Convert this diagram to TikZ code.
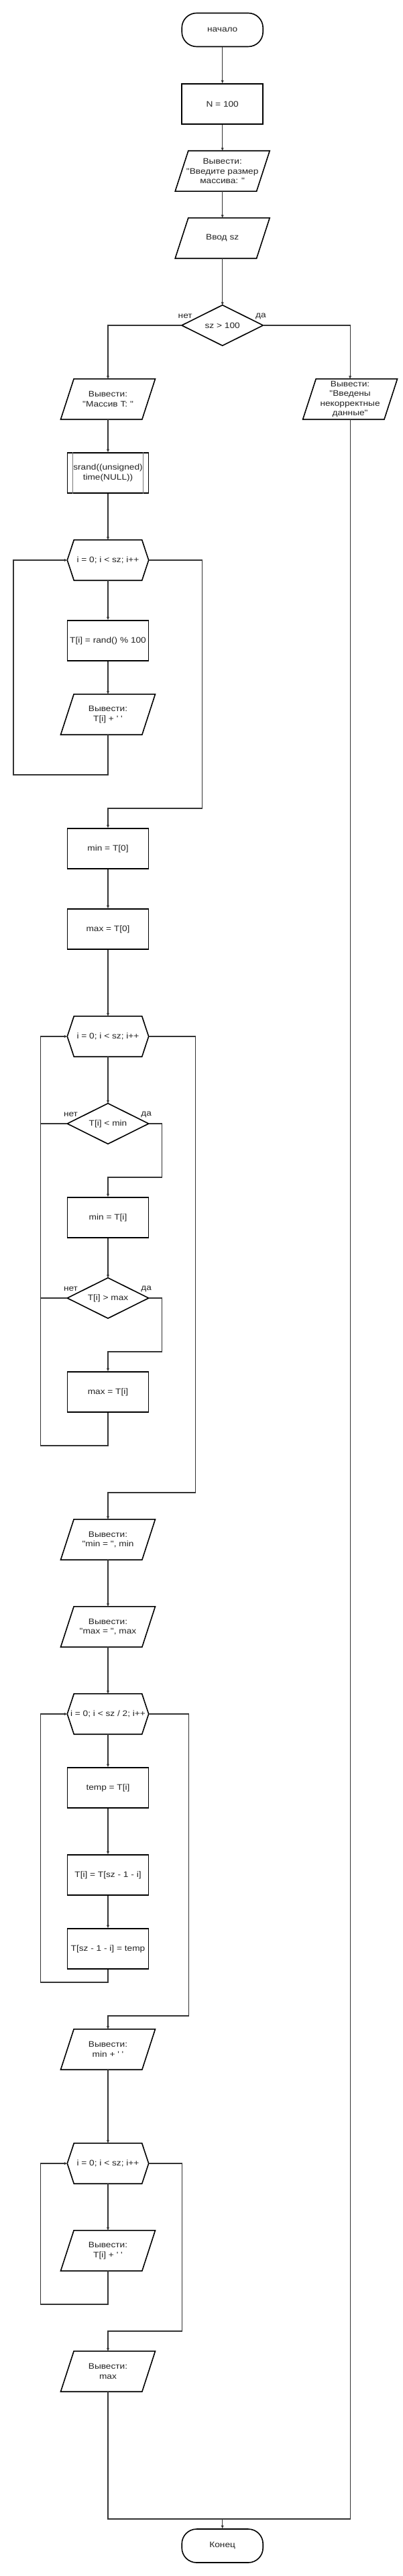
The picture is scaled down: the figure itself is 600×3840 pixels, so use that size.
\documentclass[tikz,border=0pt]{standalone}
\usepackage{fontspec}
\setmainfont{Liberation Sans}[Ligatures=TeXOff,FakeStretch=1.14]
\usetikzlibrary{arrows.meta,calc}
\definecolor{txtc}{HTML}{222222}
\definecolor{linec}{HTML}{333333}
\definecolor{innerc}{HTML}{777777}
\begin{document}
\begin{tikzpicture}[x=1pt,y=-1pt,
  every node/.style={font=\fontsize{12}{14.4}\selectfont, text=txtc, inner sep=0pt, align=center},
  box/.style={draw=black, line width=1.6pt, minimum width=121pt, minimum height=60pt},
  term/.style={draw=black, line width=1.6pt, minimum width=121pt, minimum height=50pt, rounded corners=22pt},
  ghost/.style={minimum width=121pt, minimum height=60pt},
  outline/.style={draw=black, line width=1.6pt, line join=miter},
  conn/.style={draw=linec, line width=1.1pt},
  arr/.style={conn, -{Triangle[length=4.5pt,width=3.6pt]}}
]
\fill[white] (0,0) rectangle (600,3840);
\useasboundingbox (0,0) rectangle (600,3840);

% ---- nodes ----
\node[term] (start) at (331.7,44.5) {начало};
\node[box] (n100) at (331.7,155) {N = 100};
\node[ghost] (o1) at (331.7,255) {Вывести:\\"Введите размер\\массива: "};
\node[ghost] (inp) at (331.7,355) {Ввод sz};
\node[ghost] (d1) at (331.7,485) {sz > 100};
\node[ghost] (oT) at (161,595) {Вывести:\\"Массив T: "};
\node[ghost] (oErr) at (522.1,595) {Вывести:\\"Введены\\некорректные\\данные"};
\node[box] (srand) at (161,705) {srand((unsigned)\\time(NULL))};
\node[ghost] (L1) at (161,835) {i = 0; i < sz; i++};
\node[box] (rnd) at (161,955) {T[i] = rand() \% 100};
\node[ghost] (oTi) at (161,1065) {Вывести:\\T[i] + ' '};
\node[box] (min0) at (161,1265) {min = T[0]};
\node[box] (max0) at (161,1385) {max = T[0]};
\node[ghost] (L2) at (161,1545) {i = 0; i < sz; i++};
\node[ghost] (dmin) at (161,1675) {T[i] < min};
\node[box] (minTi) at (161,1815) {min = T[i]};
\node[ghost] (dmax) at (161,1935) {T[i] > max};
\node[box] (maxTi) at (161,2075) {max = T[i]};
\node[ghost] (outmin) at (161,2295) {Вывести:\\"min = ", min};
\node[ghost] (outmax) at (161,2425) {Вывести:\\"max = ", max};
\node[ghost] (L3) at (161,2555) {i = 0; i < sz / 2; i++};
\node[box] (temp) at (161,2665) {temp = T[i]};
\node[box] (sw1) at (161,2795) {T[i] = T[sz - 1 - i]};
\node[box] (sw2) at (161,2905) {T[sz - 1 - i] = temp};
\node[ghost] (outmin2) at (161,3055) {Вывести:\\min + ' '};
\node[ghost] (L4) at (161,3225) {i = 0; i < sz; i++};
\node[ghost] (oTi2) at (161,3355) {Вывести:\\T[i] + ' '};
\node[ghost] (omax) at (161,3535) {Вывести:\\max};
\node[term] (endn) at (331.7,3795) {Конец};

% ---- shape outlines ----
\foreach \n in {o1,inp,oT,oErr,oTi,outmin,outmax,outmin2,oTi2,omax}
  \draw[outline] ([xshift=9.8pt]\n.north west) -- ([xshift=9.8pt]\n.north east)
     -- ([xshift=-9.8pt]\n.south east) -- ([xshift=-9.8pt]\n.south west) -- cycle;
\foreach \n in {L1,L2,L3,L4}
  \draw[outline] (\n.west) -- ([xshift=10pt]\n.north west) -- ([xshift=-10pt]\n.north east)
     -- (\n.east) -- ([xshift=-10pt]\n.south east) -- ([xshift=10pt]\n.south west) -- cycle;
\foreach \n in {d1,dmin,dmax}
  \draw[outline] (\n.north) -- (\n.east) -- (\n.south) -- (\n.west) -- cycle;
\draw[innerc, line width=1pt] ([xshift=8.7pt]srand.north west) -- ([xshift=8.7pt]srand.south west);
\draw[innerc, line width=1pt] ([xshift=-8.7pt]srand.north east) -- ([xshift=-8.7pt]srand.south east);

% ---- labels ----
\node at ($(d1.west)+(5.2,-14)$) {нет};
\node at ($(d1.east)+(-3.5,-14)$) {да};
\node at ($(dmin.west)+(5.2,-14)$) {нет};
\node at ($(dmin.east)+(-3.5,-14)$) {да};
\node at ($(dmax.west)+(5.2,-14)$) {нет};
\node at ($(dmax.east)+(-3.5,-14)$) {да};

% ---- connectors ----
\draw[arr] (start.south) -- (n100.north);
\draw[arr] (n100.south) -- (o1.north);
\draw[arr] (o1.south) -- (inp.north);
\draw[arr] (inp.south) -- (d1.north);
\draw[arr] (d1.west) -| (oT.north);
\draw[arr] (d1.east) -| (oErr.north);
\draw[arr] (oT.south) -- (srand.north);
\draw[arr] (srand.south) -- (L1.north);
\draw[arr] (L1.south) -- (rnd.north);
\draw[arr] (rnd.south) -- (oTi.north);
\draw[arr] (oTi.south) |- (20,1155) |- (L1.west);
\draw[arr] (L1.east) -| (301.2,1205) -| (min0.north);
\draw[arr] (min0.south) -- (max0.north);
\draw[arr] (max0.south) -- (L2.north);
\draw[arr] (L2.south) -- (dmin.north);
\draw[arr] (dmin.east) -| (241.2,1755) -| (minTi.north);
\draw[conn] (dmin.west) -- (60.3,1675);
\draw[arr] (minTi.south) -- (dmax.north);
\draw[arr] (dmax.east) -| (241.2,2015) -| (maxTi.north);
\draw[conn] (dmax.west) -- (60.3,1935);
\draw[arr] (maxTi.south) |- (60.3,2155) |- (L2.west);
\draw[arr] (L2.east) -| (291.1,2225) -| (outmin.north);
\draw[arr] (outmin.south) -- (outmax.north);
\draw[arr] (outmax.south) -- (L3.north);
\draw[arr] (L3.south) -- (temp.north);
\draw[arr] (temp.south) -- (sw1.north);
\draw[arr] (sw1.south) -- (sw2.north);
\draw[arr] (sw2.south) |- (60.3,2955) |- (L3.west);
\draw[arr] (L3.east) -| (281.2,3005) -| (outmin2.north);
\draw[arr] (outmin2.south) -- (L4.north);
\draw[arr] (L4.south) -- (oTi2.north);
\draw[arr] (oTi2.south) |- (60.3,3435) |- (L4.west);
\draw[arr] (L4.east) -| (271.5,3475) -| (omax.north);
\coordinate (merge) at (331.7,3755);
\draw[conn] (omax.south) |- (merge);
\draw[conn] (oErr.south) |- (merge);
\draw[arr] (merge) -- (endn.north);
\end{tikzpicture}
\end{document}
